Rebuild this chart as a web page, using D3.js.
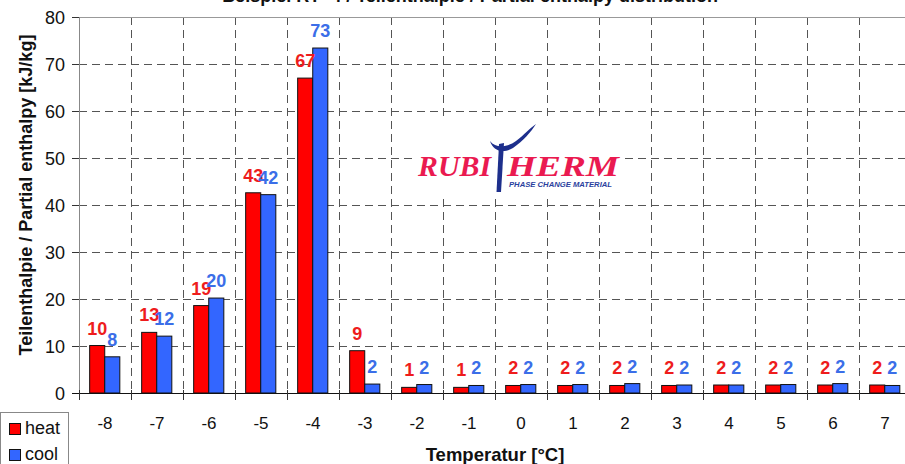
<!DOCTYPE html>
<html><head><meta charset="utf-8">
<script src="https://cdn.jsdelivr.net/npm/d3@7"></script>
<style>body{margin:0;background:#fff;overflow:hidden}svg{display:block}</style>
</head><body>
<script>
const categories = ["-8","-7","-6","-5","-4","-3","-2","-1","0","1","2","3","4","5","6","7"];
const heat = [10.1, 12.9, 18.6, 42.6, 67.0, 9.0, 1.2, 1.2, 1.6, 1.6, 1.6, 1.6, 1.7, 1.7, 1.7, 1.7];
const cool = [7.7, 12.1, 20.2, 42.2, 73.4, 1.9, 1.8, 1.6, 1.8, 1.8, 2.0, 1.7, 1.7, 1.8, 2.0, 1.6];
const seriesNames = ["heat","cool"];
const yTicks = [0,10,20,30,40,50,60,70,80];
const titleText = "Beispiel RT -4 / Teilenthalpie / Partial enthalpy distribution";
const xTitle = "Temperatur [°C]";
const yTitle = "Teilenthalpie / Partial enthalpy [kJ/kg]";

const W = 905, H = 464;
const FONT = "'Liberation Sans', Arial, sans-serif";
const barColors = {heat:"#ff0000", cool:"#3366ff"};
const labelColors = {heat:"#ee1c1c", cool:"#3b6ee8"};

const svg = d3.select("body").append("svg").attr("width",W).attr("height",H)
  .style("font-family",FONT);

const x0 = d3.scaleBand().domain(categories).range([79, 911]).padding(0);
const bw = x0.bandwidth();
const x1 = d3.scaleBand().domain(seriesNames).range([bw*0.205, bw*0.785]).padding(0);
const y = d3.scaleLinear().domain([0,80]).range([393, 17]);

const data = categories.map((c,i)=>({cat:c, heat:heat[i], cool:cool[i]}));

// title (cut off at top)
svg.append("text").attr("x",470).attr("y",1.5).attr("text-anchor","middle")
  .attr("font-size",18).attr("font-weight","bold").attr("fill","#111").text(titleText);

// horizontal grid
svg.append("g").selectAll("line").data(yTicks.filter(t=>t>0 && t<80)).join("line")
  .attr("x1",79).attr("x2",W).attr("y1",d=>y(d)+0.5).attr("y2",d=>y(d)+0.5)
  .attr("stroke","#555").attr("stroke-width",1).attr("stroke-dasharray","8,5");
// vertical grid
svg.append("g").selectAll("line").data(categories.slice(1)).join("line")
  .attr("x1",d=>Math.round(x0(d))+0.5).attr("x2",d=>Math.round(x0(d))+0.5)
  .attr("y1",y(80)).attr("y2",y(0))
  .attr("stroke","#555").attr("stroke-width",1).attr("stroke-dasharray","8,5");
// top border
svg.append("line").attr("x1",79).attr("x2",W).attr("y1",y(80)+0.5).attr("y2",y(80)+0.5)
  .attr("stroke","#999");

// logo
const logo = svg.append("g");
logo.append("rect").attr("x",413).attr("y",121).attr("width",209).attr("height",75).attr("fill","#fff");
logo.append("text").attr("x",418).attr("y",176).attr("font-family","'Liberation Serif','DejaVu Serif',serif")
  .attr("font-style","italic").attr("font-weight","bold").attr("font-size",29).attr("fill","#ea1a50")
  .attr("textLength",73).attr("lengthAdjust","spacingAndGlyphs").text("RUBI");
logo.append("text").attr("x",507).attr("y",176).attr("font-family","'Liberation Serif','DejaVu Serif',serif")
  .attr("font-style","italic").attr("font-weight","bold").attr("font-size",29).attr("fill","#ea1a50")
  .attr("textLength",112).attr("lengthAdjust","spacingAndGlyphs").text("HERM");
logo.append("path").attr("d","M499,144 L496.5,192 L501,192 L504,143 Z").attr("fill","#1d2f8c");
logo.append("path").attr("d","M490,141 C496,149 508,147 516,141 C524,135 530,128 536,124 C531,132 523,141 513,148 C503,154 493,151 490,141 Z").attr("fill","#1d2f8c");
logo.append("text").attr("x",509).attr("y",187).attr("font-size",7.5).attr("font-style","italic")
  .attr("font-weight","bold").attr("fill","#2b3f9e").attr("textLength",103).attr("lengthAdjust","spacingAndGlyphs")
  .text("PHASE CHANGE MATERIAL");

// bars
const groups = svg.append("g").selectAll("g").data(data).join("g")
  .attr("transform",d=>`translate(${x0(d.cat)},0)`);
groups.selectAll("rect").data(d=>seriesNames.map(k=>({k, v:d[k]}))).join("rect")
  .attr("x",d=>x1(d.k)).attr("width",x1.bandwidth())
  .attr("y",d=>y(d.v)).attr("height",d=>y(0)-y(d.v))
  .attr("fill",d=>barColors[d.k]).attr("stroke","#111").attr("stroke-width",1);
groups.selectAll("text").data(d=>seriesNames.map(k=>({k, v:d[k]}))).join("text")
  .attr("x",d=>x1(d.k)+x1.bandwidth()/2).attr("y",d=>y(d.v)-11)
  .attr("text-anchor","middle").attr("font-size",18).attr("font-weight","bold")
  .attr("fill",d=>labelColors[d.k]).text(d=>d3.format(".0f")(d.v));

// y axis
svg.append("line").attr("x1",79.5).attr("x2",79.5).attr("y1",y(80)).attr("y2",y(0)).attr("stroke","#888");
svg.append("g").selectAll("line").data(yTicks).join("line")
  .attr("x1",72).attr("x2",79).attr("y1",d=>y(d)+0.5).attr("y2",d=>y(d)+0.5).attr("stroke","#333");
svg.append("g").selectAll("text").data(yTicks).join("text")
  .attr("x",65).attr("y",d=>y(d)+6.5).attr("text-anchor","end").attr("font-size",18).attr("fill","#111").text(d=>d);

// x axis
svg.append("line").attr("x1",72).attr("x2",W).attr("y1",y(0)+0.5).attr("y2",y(0)+0.5).attr("stroke","#111");
svg.append("g").selectAll("line").data(categories).join("line")
  .attr("x1",d=>Math.round(x0(d))+0.5).attr("x2",d=>Math.round(x0(d))+0.5)
  .attr("y1",y(0)-3).attr("y2",y(0)+7).attr("stroke","#333");
svg.append("g").selectAll("text").data(categories).join("text")
  .attr("x",d=>x0(d)+bw/2).attr("y",429).attr("text-anchor","middle").attr("font-size",17).attr("fill","#111").text(d=>d);

// axis titles
svg.append("text").attr("x",495).attr("y",461).attr("text-anchor","middle").attr("font-size",18.5)
  .attr("font-weight","bold").attr("fill","#111").text(xTitle);
svg.append("text").attr("transform","translate(32,195) rotate(-90)").attr("text-anchor","middle")
  .attr("font-size",18).attr("font-weight","bold").attr("fill","#111").text(yTitle);

// legend
const lg = svg.append("g");
lg.append("rect").attr("x",0.5).attr("y",412.5).attr("width",68).attr("height",60).attr("fill","#fff").attr("stroke","#888");
seriesNames.forEach((k,i)=>{
  lg.append("rect").attr("x",9.5).attr("y",423.5+i*26).attr("width",11).attr("height",11)
    .attr("fill",barColors[k]).attr("stroke","#111");
  lg.append("text").attr("x",25).attr("y",434+i*26).attr("font-size",18).attr("fill","#111").text(k);
});
</script>
</body></html>
